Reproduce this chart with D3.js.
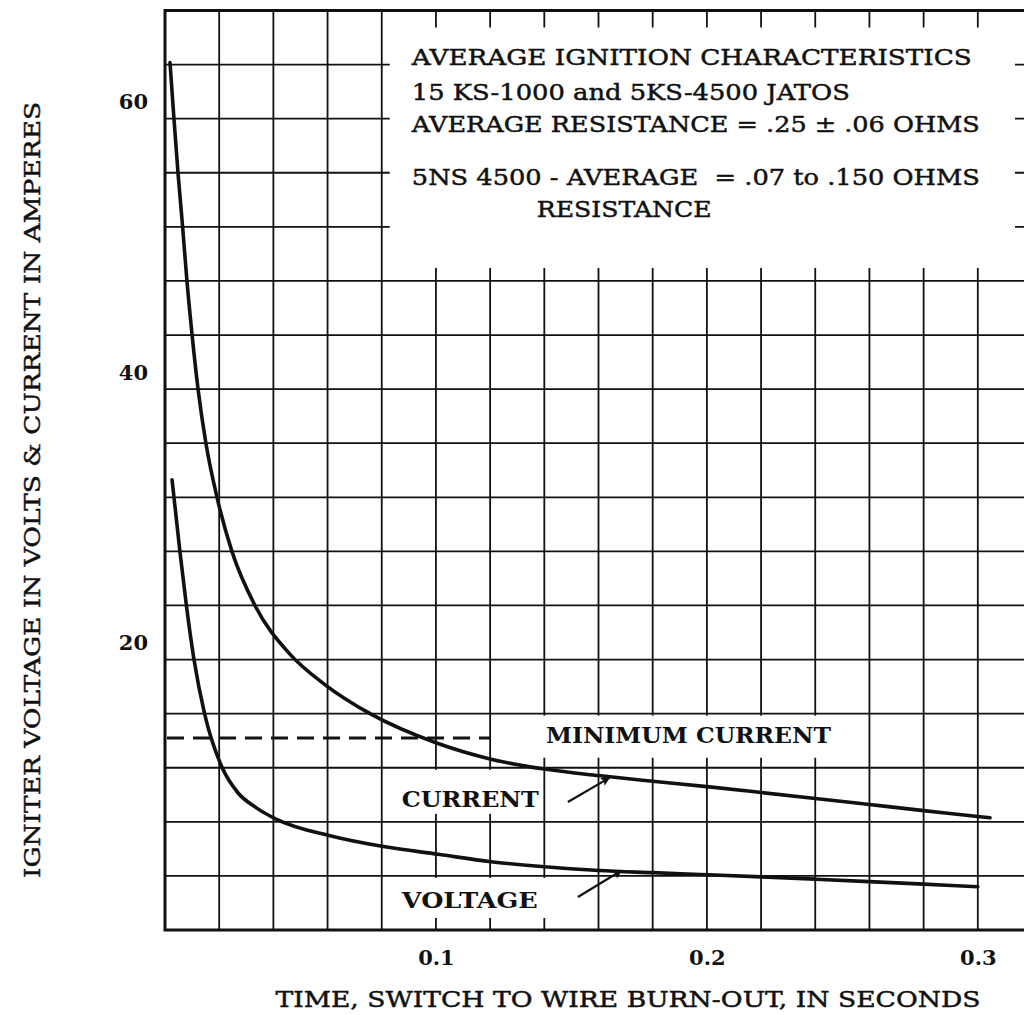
<!DOCTYPE html>
<html>
<head>
<meta charset="utf-8">
<script src="https://cdn.jsdelivr.net/npm/d3@7"></script>
<style>
  html, body { margin: 0; padding: 0; background: #fff; }
  svg { display: block; }
  text { font-family: "DejaVu Serif", "Liberation Serif", serif; fill: #111; }
</style>
</head>
<body>
<div id="chart"></div>
<script>
// Igniter current (amperes) vs time (s)
var currentCurve = [
    [0.00185, 64.15], [0.0033, 60.0], [0.0048, 56.0], [0.0065, 52.0],
    [0.0081, 48.0], [0.0100, 44.0], [0.0122, 40.0], [0.0151, 36.0],
    [0.0192, 32.0], [0.0247, 28.0], [0.0332, 24.0], [0.0461, 20.4],
    [0.059, 18.15], [0.0757, 16.0], [0.100, 13.85], [0.120, 12.65],
    [0.140, 11.9], [0.160, 11.42], [0.180, 11.0], [0.200, 10.6],
    [0.220, 10.17], [0.240, 9.73], [0.260, 9.28], [0.280, 8.83],
    [0.300, 8.4], [0.3045, 8.3]
];

// Igniter voltage (volts) vs time (s)
var voltageCurve = [
    [0.0026, 33.3], [0.0055, 28.0], [0.0079, 24.0], [0.0107, 20.0],
    [0.0146, 16.0], [0.0210, 12.05], [0.0269, 10.15], [0.0336, 9.05],
    [0.041, 8.2], [0.0613, 6.95], [0.0812, 6.15], [0.1008, 5.6],
    [0.1203, 5.05], [0.1403, 4.68], [0.1602, 4.4], [0.180, 4.24],
    [0.200, 4.09], [0.220, 3.93], [0.240, 3.76], [0.260, 3.58],
    [0.280, 3.39], [0.300, 3.2]
];

var minimumCurrent = 14.2;
var minimumCurrentEnd = 0.12;

var xTickLabels = [0.1, 0.2, 0.3];
var yTickLabels = [20, 40, 60];

var titleLines = [
    'AVERAGE IGNITION CHARACTERISTICS',
    '15 KS-1000 and 5KS-4500 JATOS',
    'AVERAGE RESISTANCE = .25 \u00B1 .06 OHMS',
    '5NS 4500 - AVERAGE  = .07 to .150 OHMS',
    'RESISTANCE'
];

var xLabel = 'TIME, SWITCH TO WIRE BURN-OUT, IN SECONDS';
var yLabel = 'IGNITER VOLTAGE IN VOLTS & CURRENT IN AMPERES';

var width = 1024, height = 1015;

var svg = d3.select('#chart').append('svg')
    .attr('width', width)
    .attr('height', height);

// plot runs past the right edge of the picture, as in the scan
var x = d3.scaleLinear().domain([0, 0.32]).range([165, 1032]);
var y = d3.scaleLinear().domain([0, 68]).range([930, 10.5]);

var xGrid = d3.range(0, 16.5).map(function(i) { return i * 0.02; });
var yGrid = d3.range(0, 17.5).map(function(i) { return i * 4; });

// Grid
var grid = svg.append('g').attr('stroke', '#111').attr('stroke-width', 1.8);
grid.selectAll('.vg').data(xGrid).enter().append('line')
    .attr('x1', function(d) { return x(d); })
    .attr('x2', function(d) { return x(d); })
    .attr('y1', y(68)).attr('y2', y(0));
grid.selectAll('.hg').data(yGrid).enter().append('line')
    .attr('x1', x(0)).attr('x2', x(0.32))
    .attr('y1', function(d) { return y(d); })
    .attr('y2', function(d) { return y(d); });

// Blank boxes where the notes sit (grid shows only as stubs)
var boxes = [
    { x0: 0.08, x1: 0.32, y0: 68, y1: 48, pad: [8, 17, 17, 13] },
    { x0: 0.12, x1: 0.26, y0: 16, y1: 12, pad: [2, 2, 2, 10] },
    { x0: 0.08, x1: 0.14, y0: 12, y1: 8, pad: [2, 2, 2, 8] },
    { x0: 0.08, x1: 0.16, y0: 4, y1: 0, pad: [2, 2, 2, 12] }
];
svg.append('g').selectAll('rect').data(boxes).enter().append('rect')
    .attr('fill', '#fff')
    .attr('x', function(d) { return x(d.x0) + d.pad[0]; })
    .attr('y', function(d) { return y(d.y0) + d.pad[2]; })
    .attr('width', function(d) { return x(d.x1) - x(d.x0) - d.pad[0] - d.pad[1]; })
    .attr('height', function(d) { return y(d.y1) - y(d.y0) - d.pad[2] - d.pad[3]; });

// Frame
svg.append('rect')
    .attr('x', x(0)).attr('y', y(68))
    .attr('width', x(0.32) - x(0)).attr('height', y(0) - y(68))
    .attr('fill', 'none').attr('stroke', '#111').attr('stroke-width', 3);

// Minimum current dashed line
svg.append('line')
    .attr('x1', x(0) + 2).attr('x2', x(minimumCurrentEnd))
    .attr('y1', y(minimumCurrent)).attr('y2', y(minimumCurrent))
    .attr('stroke', '#111').attr('stroke-width', 3)
    .attr('stroke-dasharray', '17,9');

// Curves
var line = d3.line()
    .x(function(d) { return x(d[0]); })
    .y(function(d) { return y(d[1]); })
    .curve(d3.curveMonotoneX);

[currentCurve, voltageCurve].forEach(function(series) {
    svg.append('path')
        .datum(series)
        .attr('d', line)
        .attr('fill', 'none')
        .attr('stroke', '#111')
        .attr('stroke-width', 3.6)
        .attr('stroke-linecap', 'round')
        .attr('stroke-linejoin', 'round');
});

// Arrows pointing at the curves
svg.append('defs').append('marker')
    .attr('id', 'head')
    .attr('viewBox', '0 0 10 10')
    .attr('refX', 9).attr('refY', 5)
    .attr('markerWidth', 20).attr('markerHeight', 9)
    .attr('markerUnits', 'userSpaceOnUse')
    .attr('orient', 'auto')
    .append('path').attr('d', 'M0,0 L10,5 L0,10 L2,5 Z').attr('fill', '#111');

var arrows = [
    { from: [0.1487, 9.47], to: [0.1640, 11.25] },
    { from: [0.1524, 2.44], to: [0.1685, 4.4] }
];
svg.append('g').selectAll('line').data(arrows).enter().append('line')
    .attr('x1', function(d) { return x(d.from[0]); })
    .attr('y1', function(d) { return y(d.from[1]); })
    .attr('x2', function(d) { return x(d.to[0]); })
    .attr('y2', function(d) { return y(d.to[1]); })
    .attr('stroke', '#111').attr('stroke-width', 2.2)
    .attr('marker-end', 'url(#head)');

// Curve labels
function note(txt, t, v, len, size) {
    svg.append('text')
        .attr('x', x(t)).attr('y', y(v))
        .attr('font-size', size)
        .attr('font-weight', 'bold')
        .attr('textLength', len)
        .attr('lengthAdjust', 'spacingAndGlyphs')
        .text(txt);
}
note('MINIMUM CURRENT', 0.1406, 13.86, 285, 23);
note('CURRENT', 0.0874, 9.1, 137, 23);
note('VOLTAGE', 0.0874, 1.63, 136, 23);

// Title block
var titleX = [0.0911, 0.0911, 0.0911, 0.0911, 0.1372];
var titleY = [64.0, 61.4, 59.05, 55.1, 52.75];
var titleLen = [560, 438, 568, 568, 175];
titleLines.forEach(function(txt, i) {
    svg.append('text')
        .attr('x', x(titleX[i])).attr('y', y(titleY[i]))
        .attr('font-size', 22)
        .attr('stroke', '#111').attr('stroke-width', 0.45)
        .attr('textLength', titleLen[i])
        .attr('lengthAdjust', 'spacingAndGlyphs')
        .style('white-space', 'pre')
        .text(txt);
});

// Axes (labels only, the grid carries the ticks)
var xAxis = svg.append('g')
    .attr('transform', 'translate(0,' + y(0) + ')')
    .call(d3.axisBottom(x).tickValues(xTickLabels).tickSize(0).tickPadding(20)
        .tickFormat(d3.format('.1f')));
xAxis.select('.domain').remove();
xAxis.selectAll('text')
    .attr('font-family', '"DejaVu Serif", serif')
    .attr('font-size', 21).attr('font-weight', 'bold').attr('fill', '#111');

var yAxis = svg.append('g')
    .attr('transform', 'translate(' + x(0) + ',0)')
    .call(d3.axisLeft(y).tickValues(yTickLabels).tickSize(0).tickPadding(17));
yAxis.select('.domain').remove();
yAxis.selectAll('text')
    .attr('dy', -10)
    .attr('font-family', '"DejaVu Serif", serif')
    .attr('font-size', 21).attr('font-weight', 'bold').attr('fill', '#111');

svg.append('text')
    .attr('x', 628).attr('y', 1007)
    .attr('text-anchor', 'middle')
    .attr('font-size', 22)
    .attr('stroke', '#111').attr('stroke-width', 0.45)
    .attr('textLength', 705)
    .attr('lengthAdjust', 'spacingAndGlyphs')
    .text(xLabel);

svg.append('text')
    .attr('transform', 'translate(40,490) rotate(-90)')
    .attr('text-anchor', 'middle')
    .attr('font-size', 22)
    .attr('stroke', '#111').attr('stroke-width', 0.45)
    .attr('textLength', 776)
    .attr('lengthAdjust', 'spacingAndGlyphs')
    .text(yLabel);
</script>
</body>
</html>
